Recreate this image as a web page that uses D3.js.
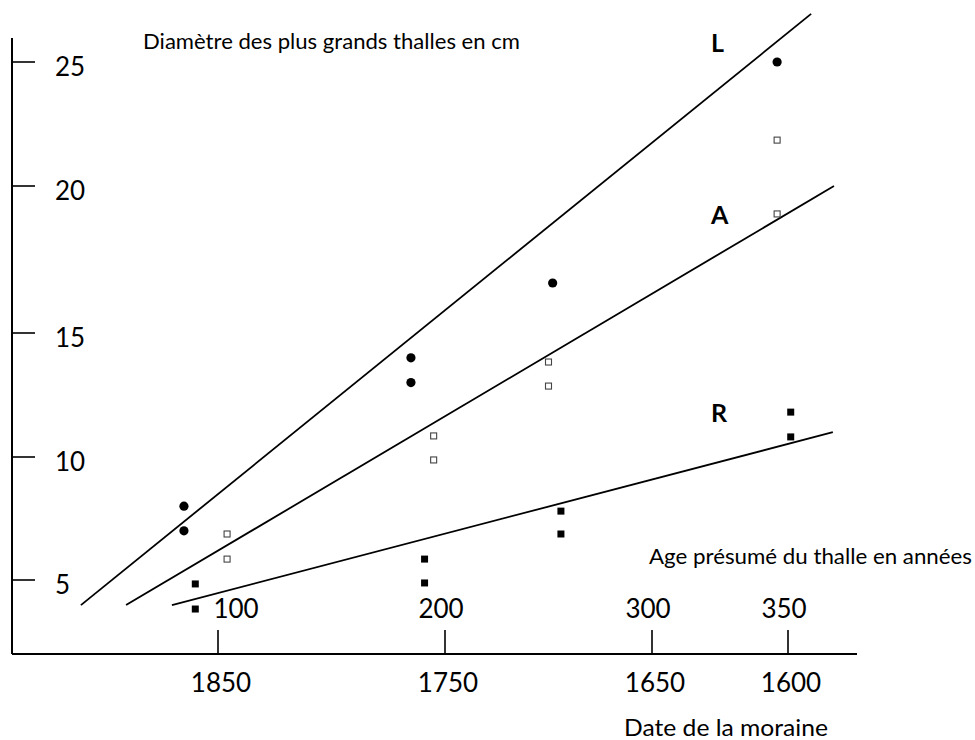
<!DOCTYPE html>
<html>
<head>
<meta charset="utf-8">
<script src="https://cdn.jsdelivr.net/npm/d3@7"></script>
<style>
  html, body { margin: 0; padding: 0; background: #fff; }
  svg { display: block; font-family: Lato, "Open Sans", sans-serif; }
</style>
</head>
<body>
<svg id="chart" width="975" height="740"></svg>
<script>
// ---------- data ----------
const yTicks = [5, 10, 15, 20, 25];
const ageTicks = [100, 200, 300, 350];
const dateLabels = ["1850", "1750", "1650", "1600"];

const titleY = "Diamètre des plus grands thalles en cm";
const titleAge = "Age présumé du thalle en années";
const titleDate = "Date de la moraine";

// series L (filled circles): [age, diameter]
const seriesL = [[85, 8.0], [85, 7.0], [185, 14.0], [185, 13.0], [252, 16.7], [346, 25.0]];
// series A (open squares)
const seriesA = [[104, 6.87], [104, 5.85], [195, 10.85], [195, 9.88], [250, 13.83], [250, 12.86], [346, 21.85], [346, 19.05]];
// series R (filled squares)
const seriesR = [[90, 4.84], [90, 3.82], [191, 5.85], [191, 4.88], [256, 7.8], [256, 6.87], [351, 11.81], [351, 10.81]];

// fitted lines: [start, end]
const lineL = [[39.6, 3.98], [358.5, 26.94]];
const lineA = [[59.5, 3.98], [366.9, 20.0]];
const lineR = [[79.7, 3.98], [366.5, 11.0]];

const lineLabels = [
  { name: "L", at: [312, 25.4] },
  { name: "A", at: [312, 18.7] },
  { name: "R", at: [312, 11.4] }
];

// ---------- drawing ----------
const svg = d3.select("#chart");

// hand-drawn axes have uneven spacing: piecewise scales
const x = d3.scaleLinear().domain(ageTicks).range([218, 445, 652, 788]);
const y = d3.scaleLinear().domain(yTicks).range([580, 457, 333, 186, 62]);

const axisX0 = 12, axisY0 = 654;

// y axis line
svg.append("line")
  .attr("x1", axisX0).attr("x2", axisX0)
  .attr("y1", 38).attr("y2", axisY0)
  .attr("stroke", "#000").attr("stroke-width", 2);

// x axis line
svg.append("line")
  .attr("x1", axisX0).attr("x2", 857)
  .attr("y1", axisY0).attr("y2", axisY0)
  .attr("stroke", "#000").attr("stroke-width", 2);

// y ticks
const yt = svg.append("g").selectAll("g").data(yTicks).join("g");
yt.append("line")
  .attr("x1", axisX0).attr("x2", 35)
  .attr("y1", d => y(d)).attr("y2", d => y(d))
  .attr("stroke", "#000").attr("stroke-width", 1.6);
yt.append("text")
  .attr("x", 55).attr("y", d => y(d) + 14)
  .attr("font-size", 26)
  .text(d => d);

// x ticks
const xt = svg.append("g").selectAll("g").data(ageTicks).join("g");
xt.append("line")
  .attr("x1", d => x(d)).attr("x2", d => x(d))
  .attr("y1", 630).attr("y2", axisY0)
  .attr("stroke", "#000").attr("stroke-width", 1.6);
xt.append("text")
  .attr("x", (d, i) => x(d) + (i === 0 ? 18 : -4))
  .attr("y", 618)
  .attr("text-anchor", "middle")
  .attr("font-size", 26)
  .text(d => d);
xt.append("text")
  .attr("x", d => x(d) + 3)
  .attr("y", 692)
  .attr("text-anchor", "middle")
  .attr("font-size", 26)
  .text((d, i) => dateLabels[i]);

// titles
svg.append("text").attr("x", 143).attr("y", 49)
  .attr("font-size", 21)
  .attr("textLength", 377).attr("lengthAdjust", "spacingAndGlyphs")
  .text(titleY);
svg.append("text").attr("x", 649).attr("y", 564)
  .attr("font-size", 21)
  .attr("textLength", 323).attr("lengthAdjust", "spacingAndGlyphs")
  .text(titleAge);
svg.append("text").attr("x", 624).attr("y", 736)
  .attr("font-size", 23)
  .attr("textLength", 204).attr("lengthAdjust", "spacingAndGlyphs")
  .text(titleDate);

// regression lines
const line = d3.line().x(d => x(d[0])).y(d => y(d[1]));
[lineL, lineA, lineR].forEach(l => {
  svg.append("path").attr("d", line(l))
    .attr("fill", "none").attr("stroke", "#000").attr("stroke-width", 1.8);
});

// line labels
svg.append("g").selectAll("text").data(lineLabels).join("text")
  .attr("x", 711)
  .attr("y", d => y(d.at[1]))
  .attr("font-size", 25).attr("font-weight", "bold")
  .text(d => d.name);

// points
svg.append("g").selectAll("circle").data(seriesL).join("circle")
  .attr("cx", d => x(d[0])).attr("cy", d => y(d[1]))
  .attr("r", 4.6).attr("fill", "#000");

svg.append("g").selectAll("rect").data(seriesA).join("rect")
  .attr("x", d => x(d[0]) - 3).attr("y", d => y(d[1]) - 3)
  .attr("width", 6).attr("height", 6)
  .attr("fill", "#fff").attr("stroke", "#444").attr("stroke-width", 1.1);

svg.append("g").selectAll("rect").data(seriesR).join("rect")
  .attr("x", d => x(d[0]) - 3.5).attr("y", d => y(d[1]) - 3.5)
  .attr("width", 7).attr("height", 7)
  .attr("fill", "#000");
</script>
</body>
</html>
